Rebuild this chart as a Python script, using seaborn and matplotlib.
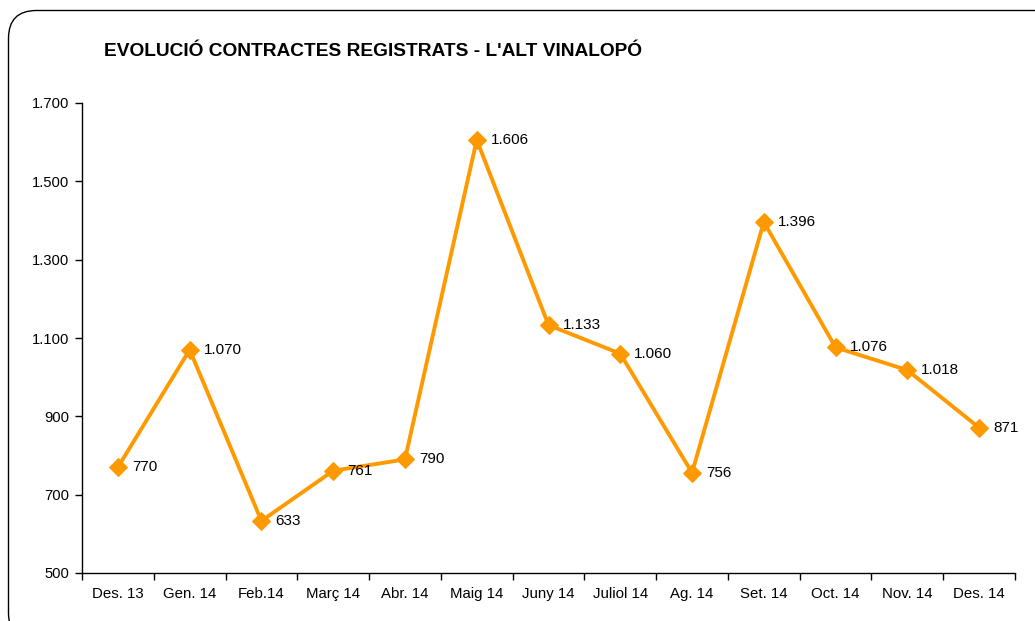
import matplotlib
matplotlib.use("Agg")
import matplotlib.pyplot as plt
import seaborn as sns
import pandas as pd
from matplotlib.patches import FancyBboxPatch
from matplotlib.transforms import IdentityTransform
from matplotlib.ticker import FixedLocator, FuncFormatter

months = ["Des. 13", "Gen. 14", "Feb.14", "Març 14", "Abr. 14", "Maig 14", "Juny 14",
          "Juliol 14", "Ag. 14", "Set. 14", "Oct. 14", "Nov. 14", "Des. 14"]
contracts = [770, 1070, 633, 761, 790, 1606, 1133, 1060, 756, 1396, 1076, 1018, 871]
title = "EVOLUCIÓ CONTRACTES REGISTRATS - L'ALT VINALOPÓ"

sns.set_theme(style="white")
plt.rcParams['font.family'] = ['Liberation Sans', 'DejaVu Sans']
plt.rcParams['text.color'] = 'black'

df = pd.DataFrame({"idx": range(len(months)), "value": contracts})

fig = plt.figure(figsize=(10.35, 6.21), dpi=100)
fig.patch.set_facecolor("white")

W, H = 1035, 621
# border in display pixels (origin bottom-left)
border = FancyBboxPatch((8.5, -20), 1300, H - 10.5 + 20,
                        boxstyle="round,pad=0,rounding_size=28",
                        transform=IdentityTransform(), fill=False, edgecolor="black",
                        linewidth=1.0)
fig.patches.append(border)

ax = fig.add_axes([82 / W, 1 - 573 / H, (1015 - 82) / W, (573 - 103) / H])
color = "#FF9900"
sns.lineplot(data=df, x="idx", y="value", ax=ax, color=color, linewidth=2.8,
             marker="D", markersize=9.5, markeredgecolor=color, sort=False)

for i, v in enumerate(contracts):
    lbl = f"{v:,}".replace(",", ".")
    ax.annotate(lbl, (i, v), xytext=(10, 0), textcoords="offset points",
                ha="left", va="center", fontsize=11, color="black")

ax.set_xlim(-0.5, len(months) - 0.5)
ax.set_ylim(500, 1700)
ax.yaxis.set_major_locator(FixedLocator([500, 700, 900, 1100, 1300, 1500, 1700]))
ax.yaxis.set_major_formatter(FuncFormatter(lambda v, p: f"{int(v):,}".replace(",", ".")))
ax.set_xticks(range(len(months)))
ax.set_xticklabels(months)
ax.set_xticks([i - 0.5 for i in range(len(months) + 1)], minor=True)
ax.tick_params(axis="x", which="major", length=0, labelsize=10.8, pad=10, colors="black")
ax.tick_params(axis="x", which="minor", length=5, width=1, direction="out", bottom=True, color="black")
ax.tick_params(axis="y", which="major", length=5, width=1, direction="out", left=True,
               labelsize=10.6, pad=4, colors="black")
ax.set_xlabel("")
ax.set_ylabel("")
for s in ["top", "right"]:
    ax.spines[s].set_visible(False)
for s in ["left", "bottom"]:
    ax.spines[s].set_color("black")
    ax.spines[s].set_linewidth(1.0)
ax.set_facecolor("white")

fig.text(104 / W, 1 - 52 / H, title, fontsize=13.8, fontweight="bold", ha="left", va="center",
         color="black")

fig.savefig("out.png", dpi=100)
